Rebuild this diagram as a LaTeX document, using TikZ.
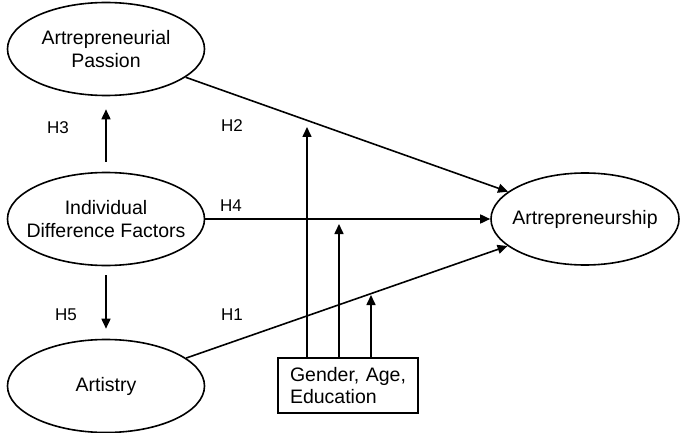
\documentclass[tikz,border=0pt]{standalone}
\usepackage{fontspec}
\setmainfont{Liberation Sans}
\usetikzlibrary{shapes.geometric,arrows.meta}
\begin{document}
\begin{tikzpicture}[x=1pt,y=-1pt,
  construct/.style={draw,ellipse,line width=1.6pt,inner xsep=-30pt,inner ysep=-5pt,minimum width=197pt,minimum height=93pt,align=center,font=\fontsize{19.5}{22.5}\selectfont},
  modbox/.style={draw,rectangle,line width=1.6pt,inner sep=0pt,minimum width=140pt,minimum height=55pt,align=left,font=\fontsize{19.5}{21.5}\selectfont},
  hlabel/.style={inner sep=0pt,font=\fontsize{17}{20}\selectfont},
  arr/.style={line width=1.6pt,-{Triangle[length=10pt,width=9pt]}}]
\useasboundingbox (0,0) rectangle (680,433);
\node[construct] (pas) at (106,49) {Artrepreneurial\\Passion};
\node[construct] (idf) at (106,219) {Individual\\Difference Factors};
\node[construct] (ats) at (106,386) {Artistry};
\node[construct,minimum width=188pt,minimum height=92pt] (art) at (585,219) {Artrepreneurship};
\node[modbox,text width=116pt] (mod) at (348,385.5) {Gender, Age,\\Education};
\node[hlabel] (h3) at (58,128) {H3};
\node[hlabel] (h2) at (232,126) {H2};
\node[hlabel] (h4) at (231,206) {H4};
\node[hlabel] (h5) at (66,315) {H5};
\node[hlabel] (h1) at (232,315) {H1};
\draw[arr] ([yshift=10pt]idf.north) -- ([yshift=-13pt]pas.south);
\draw[arr] ([yshift=-9pt]idf.south) -- ([yshift=10pt]ats.north);
\draw[arr] (pas) -- (art);
\draw[arr] (idf) -- (art);
\draw[arr] (ats) -- (art);
\coordinate (t1) at (307,127);
\coordinate (t2) at (339,224);
\coordinate (t3) at (371,295);
\draw[arr] (t1 |- mod.north) -- (t1);
\draw[arr] (t2 |- mod.north) -- (t2);
\draw[arr] (t3 |- mod.north) -- (t3);
\end{tikzpicture}
\end{document}
